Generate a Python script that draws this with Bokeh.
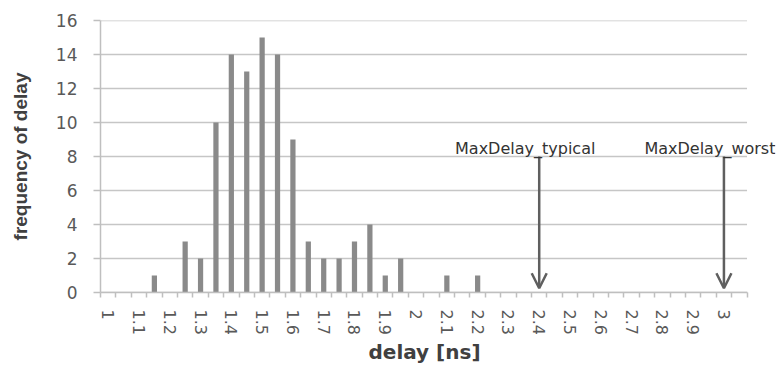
from bokeh.plotting import figure
from bokeh.models import FixedTicker, Arrow, OpenHead, Range1d, ColumnDataSource, Label, Title
from bokeh.embed import file_html
from bokeh.resources import INLINE

# ---- data ----
delays = [1.00, 1.05, 1.10, 1.15, 1.20, 1.25, 1.30, 1.35, 1.40, 1.45,
          1.50, 1.55, 1.60, 1.65, 1.70, 1.75, 1.80, 1.85, 1.90, 1.95,
          2.00, 2.05, 2.10, 2.15, 2.20, 2.25, 2.30, 2.35, 2.40, 2.45,
          2.50, 2.55, 2.60, 2.65, 2.70, 2.75, 2.80, 2.85, 2.90, 2.95,
          3.00, 3.05]
counts = [0, 0, 0, 1, 0, 3, 2, 10, 14, 13,
          15, 14, 9, 3, 2, 2, 3, 4, 1, 2,
          0, 0, 1, 0, 1, 0, 0, 0, 0, 0,
          0, 0, 0, 0, 0, 0, 0, 0, 0, 0,
          0, 0]
tick_labels = ["1", "1.1", "1.2", "1.3", "1.4", "1.5", "1.6", "1.7", "1.8", "1.9",
               "2", "2.1", "2.2", "2.3", "2.4", "2.5", "2.6", "2.7", "2.8", "2.9", "3"]
y_ticks = [0, 2, 4, 6, 8, 10, 12, 14, 16]
marker_names = ["MaxDelay_typical", "MaxDelay_worst"]
marker_delays = [2.40, 3.00]
marker_level = 8

idx = list(range(len(delays)))
n = len(delays)
x_lo, x_hi = -0.5, n - 0.5          # category axis extent
x_view_hi = x_hi + 1.85             # extra room on the right for the label text

def delay_index(d):
    return min(idx, key=lambda i: abs(delays[i] - d))

p = figure(width=779, height=365, output_backend="svg", toolbar_location=None,
           x_range=Range1d(x_lo, x_view_hi), y_range=Range1d(0, 16),
           min_border_left=100, min_border_top=20, min_border_right=4,
           min_border_bottom=73)
p.outline_line_color = None
p.background_fill_color = "white"
p.border_fill_color = "white"

# horizontal grid lines limited to the category extent
p.segment(x0=[x_lo] * len(y_ticks), x1=[x_hi] * len(y_ticks), y0=y_ticks, y1=y_ticks,
          line_color="#c6c6c6", line_width=1.5)

src = ColumnDataSource(dict(x=idx, top=counts))
p.vbar(x="x", top="top", width=0.34, source=src, fill_color="#8a8a8a",
       line_color=None)

# arrows + labels
for name, d in zip(marker_names, marker_delays):
    i = delay_index(d)
    p.add_layout(Arrow(end=OpenHead(size=15, line_width=2.5, line_color="#5f5f5f"),
                       x_start=i, y_start=marker_level, x_end=i, y_end=0.25,
                       line_width=2.5, line_color="#5f5f5f"))
    p.add_layout(Label(x=i, y=marker_level, text=name, x_offset=-14, y_offset=8,
                       text_align="center", text_baseline="alphabetic",
                       text_font="DejaVu Sans", text_font_size="16px",
                       text_color="#333333"))

# x axis
even = [i for i in idx if i % 2 == 0 and i // 2 < len(tick_labels)]
p.xaxis.bounds = (x_lo, x_hi)
p.xaxis.ticker = FixedTicker(ticks=even, minor_ticks=[i - 0.5 for i in range(n + 1)])
p.xaxis.major_label_overrides = {i: tick_labels[i // 2] for i in even}
p.xaxis.major_label_orientation = "vertical"
p.xaxis.major_tick_out = 0
p.xaxis.major_tick_in = 0
p.xaxis.minor_tick_out = 5
p.xaxis.minor_tick_in = 0
p.xaxis.minor_tick_line_color = "#bfbfbf"
p.xaxis.minor_tick_line_width = 1.5
p.xaxis.axis_line_color = "#bfbfbf"
p.xaxis.axis_line_width = 1.5
p.xaxis.major_label_text_font = "DejaVu Sans"
p.xaxis.major_label_text_font_size = "16px"
p.xaxis.major_label_text_color = "#595959"
p.xaxis.major_label_standoff = 12

# x axis title, centred under the category extent (not the wider frame)
p.add_layout(Title(text="delay [ns]", align="left", offset=268, standoff=0,
                   text_font="DejaVu Sans", text_font_style="bold",
                   text_font_size="20px", text_color="#404040"), "below")

# y axis
p.yaxis.ticker = FixedTicker(ticks=y_ticks)
p.yaxis.major_tick_out = 7
p.yaxis.major_tick_in = 0
p.yaxis.minor_tick_line_color = None
p.yaxis.major_tick_line_color = "#bfbfbf"
p.yaxis.major_tick_line_width = 1.5
p.yaxis.axis_line_color = "#bfbfbf"
p.yaxis.axis_line_width = 1.5
p.yaxis.major_label_text_font = "DejaVu Sans"
p.yaxis.major_label_text_font_size = "17px"
p.yaxis.major_label_text_color = "#595959"
p.yaxis.major_label_standoff = 16
p.yaxis.axis_label = "frequency of delay"
p.yaxis.axis_label_text_font = "Liberation Sans"
p.yaxis.axis_label_text_font_style = "bold"
p.yaxis.axis_label_text_font_size = "19px"
p.yaxis.axis_label_text_color = "#404040"
p.yaxis.axis_label_standoff = 22

p.xgrid.grid_line_color = None
p.ygrid.grid_line_color = None

open("out.html", "w").write(file_html(p, INLINE))
